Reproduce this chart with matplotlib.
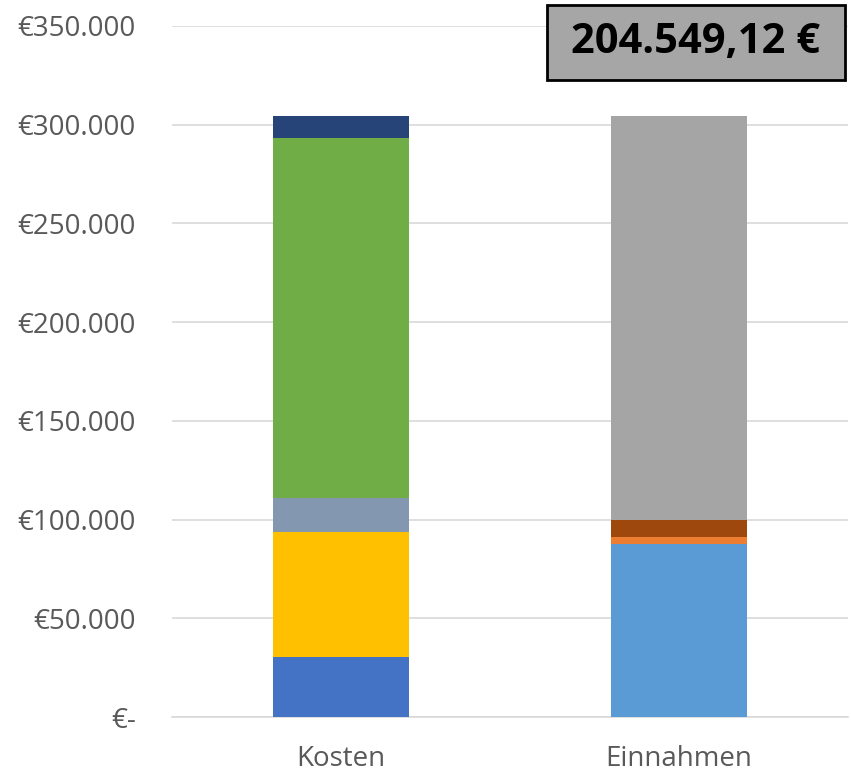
import matplotlib.pyplot as plt
from matplotlib.patches import Rectangle

# data
categories = ['Kosten', 'Einnahmen']
kosten = [30500, 63400, 17200, 182400, 10949]
einnahmen = [87800, 3500, 8600, 204549.12]
kosten_colors = ['#4472C4', '#FFC000', '#8497B0', '#70AD47', '#264478']
einnahmen_colors = ['#5B9BD5', '#ED7D31', '#9E480E', '#A5A5A5']
yticks = [0, 50000, 100000, 150000, 200000, 250000, 300000, 350000]
box_text = '204.549,12 €'

plt.rcParams['font.family'] = ['Open Sans', 'DejaVu Sans']

W, H = 851, 772
fig = plt.figure(figsize=(W/100, H/100), dpi=100)
ax = fig.add_axes([172/W, 1-717/H, (848-172)/W, (717-26)/H])

bottom = 0
for val, col in zip(kosten, kosten_colors):
    ax.bar(0, val, width=0.4, bottom=bottom, color=col, zorder=3)
    bottom += val
bottom = 0
for val, col in zip(einnahmen, einnahmen_colors):
    ax.bar(1, val, width=0.4, bottom=bottom, color=col, zorder=3)
    bottom += val

ax.set_xlim(-0.5, 1.5)
ax.set_ylim(0, 350000)
ax.set_yticks(yticks)
ax.set_yticklabels(['€-' if t == 0 else '€' + format(t, ',').replace(',', '.') for t in yticks])
ax.set_xticks([0, 1])
ax.set_xticklabels(categories)
ax.tick_params(axis='y', length=0, pad=26, labelsize=20, labelcolor='#595959')
ax.tick_params(axis='x', length=0, pad=20, labelsize=20, labelcolor='#595959')
ax.yaxis.grid(True, color='#D9D9D9', linewidth=1.2, zorder=0)
for s in ax.spines.values():
    s.set_visible(False)
ax.spines['bottom'].set_visible(True)
ax.spines['bottom'].set_color('#D9D9D9')
ax.spines['bottom'].set_linewidth(1.2)

# total box top right
fig.patches.append(Rectangle((547/W, 1-80/H), (845-547)/W, 75/H, transform=fig.transFigure,
                             facecolor='#A6A6A6', edgecolor='black', linewidth=2, zorder=5))
fig.text(696/W, 1-42/H, box_text, ha='center', va='center', fontsize=30,
         fontweight='bold', color='black', zorder=6)

fig.savefig('out.png', dpi=100)
